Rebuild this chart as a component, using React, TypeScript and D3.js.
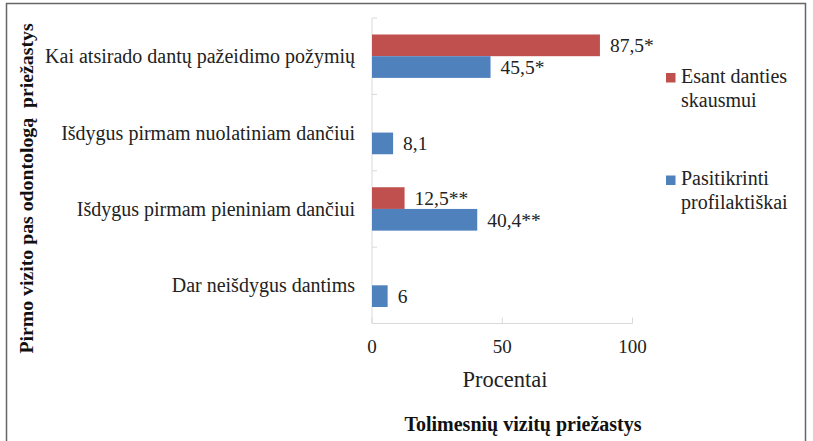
import React from 'react'
import * as d3 from 'd3'

const categories = [
    'Kai atsirado dantų pažeidimo požymių',
    'Išdygus pirmam nuolatiniam dančiui',
    'Išdygus pirmam pieniniam dančiui',
    'Dar neišdygus dantims',
]
const painValues = [87.5, 0, 12.5, 0]
const painLabels = ['87,5*', '', '12,5**', '']
const checkValues = [45.5, 8.1, 40.4, 6]
const checkLabels = ['45,5*', '8,1', '40,4**', '6']
const xTicks = [0, 50, 100]

const seriesNames = [['Esant danties', 'skausmui'], ['Pasitikrinti', 'profilaktiškai']]
const colors = ['#C0504D', '#4F81BD']

const font = "'Liberation Serif', 'Times New Roman', Times, 'DejaVu Serif', serif"

function App() {
    const width = 813
    const height = 441
    const plot = { left: 372, right: 632.5, top: 18, bottom: 323.5 }

    const x = d3.scaleLinear().domain([0, 100]).range([plot.left, plot.right])
    const y = d3.scaleBand().domain(categories).range([plot.top, plot.bottom])
    const barH = 21.7

    const series = [
        { values: painValues, labels: painLabels, color: colors[0], offset: -barH },
        { values: checkValues, labels: checkLabels, color: colors[1], offset: 0 },
    ]

    return (
        <svg width={width} height={height} style={{ position: 'absolute', left: 0, top: 0, background: 'white', fontFamily: font }}>
            {/* frame */}
            <path d={`M6.5,${height + 2} V3.5 H805.5 V${height + 2}`} fill="none" stroke="#666" strokeWidth={1.5} />

            {/* axes */}
            <line x1={plot.left} x2={plot.left} y1={plot.top} y2={plot.bottom} stroke="#d9d9d9" />
            <line x1={plot.left} x2={plot.right} y1={plot.bottom} y2={plot.bottom} stroke="#d9d9d9" />
            {y.domain().map((c) => (
                <line key={c} x1={plot.left} x2={plot.left + 5} y1={y(c)} y2={y(c)} stroke="#d9d9d9" />
            ))}
            {xTicks.map((t) => (
                <g key={t}>
                    <line x1={x(t)} x2={x(t)} y1={plot.bottom - 6} y2={plot.bottom} stroke="#d9d9d9" />
                    <text x={x(t)} y={353} textAnchor="middle" fontSize={19} fill="#222">{t}</text>
                </g>
            ))}

            {/* bars */}
            {series.map((s, si) => categories.map((c, i) => {
                const mid = (y(c) as number) + y.bandwidth() / 2
                if (!s.values[i]) return null
                return (
                    <g key={si + '-' + i}>
                        <rect x={x(0)} y={mid + s.offset} width={x(s.values[i]) - x(0)} height={barH} fill={s.color} />
                        <text x={x(s.values[i]) + 10} y={mid + s.offset + barH / 2} dy="0.35em" fontSize={19.5} fill="#222">
                            {s.labels[i]}
                        </text>
                    </g>
                )
            }))}

            {/* category labels */}
            {categories.map((c) => (
                <text key={c} x={355} y={(y(c) as number) + y.bandwidth() / 2} dy="0.35em" textAnchor="end" fontSize={20} fill="#222">
                    {c}
                </text>
            ))}

            {/* legend */}
            {seriesNames.map((lines, i) => (
                <g key={i} transform={`translate(666, ${i === 0 ? 73 : 175.5})`}>
                    <rect width={9.5} height={9.5} fill={colors[i]} />
                    {lines.map((l, j) => (
                        <text key={j} x={15} y={9.5 + j * 24} fontSize={20} fill="#222">{l}</text>
                    ))}
                </g>
            ))}

            {/* titles */}
            <text x={505} y={387} textAnchor="middle" fontSize={22.5} fill="#222">Procentai</text>
            <text x={523} y={431} textAnchor="middle" fontSize={20} fontWeight="bold" fill="#111">
                Tolimesnių vizitų priežastys
            </text>
            <text transform="translate(33, 188.5) rotate(-90)" textAnchor="middle" fontSize={19.8} fontWeight="bold" fill="#111"
                style={{ whiteSpace: 'pre' }}>
                {'Pirmo vizito pas odontologą  priežastys'}
            </text>
        </svg>
    )
}

export default App
